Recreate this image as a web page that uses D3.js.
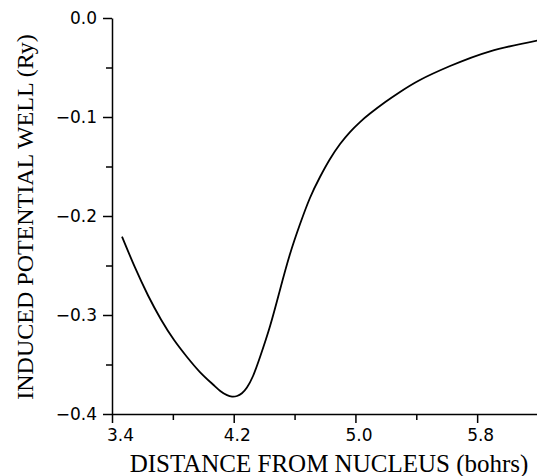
<!DOCTYPE html>
<html>
<head>
<meta charset="utf-8">
<script src="https://cdn.jsdelivr.net/npm/d3@7"></script>
<style>
  body { margin: 0; background: #fff; }
  .tick text { font-family: "DejaVu Sans", sans-serif; font-size: 17px; fill: #000; }
  .axis-label { font-family: "Liberation Serif", "Times New Roman", serif; font-size: 24px; fill: #000; }
</style>
</head>
<body>
<svg width="537" height="476"></svg>
<script>
const svg = d3.select("svg");

// distance from nucleus (bohrs) and induced potential (Ry)
const distance = [3.466, 3.551, 3.637, 3.722, 3.808, 3.893, 3.978, 4.064, 4.116, 4.156,
    4.189, 4.222, 4.254, 4.287, 4.327, 4.373, 4.439, 4.504, 4.570, 4.636, 4.701, 4.767,
    4.833, 4.899, 4.964, 5.030, 5.096, 5.194, 5.293, 5.424, 5.622, 5.885, 6.200];
const potential = [-0.2209, -0.2520, -0.2803, -0.3045, -0.3253, -0.3424, -0.3576, -0.3702,
    -0.3773, -0.3810, -0.3824, -0.3818, -0.3790, -0.3732, -0.3616, -0.3424, -0.3111, -0.2747,
    -0.2384, -0.2081, -0.1818, -0.1606, -0.1424, -0.1273, -0.1152, -0.1051, -0.0965, -0.0851,
    -0.0747, -0.0626, -0.0485, -0.0336, -0.0226];

const xTicks = [3.4, 4.2, 5.0, 5.8];
const xMinorTicks = [3.8, 4.6, 5.4];
const yTicks = [0, -0.1, -0.2, -0.3, -0.4];
const yMinorTicks = [-0.05, -0.15, -0.25, -0.35];

const data = distance.map((d, i) => ({ x: d, y: potential[i] }));

const xScale = d3.scaleLinear().domain([3.4, 6.2]).range([112, 538]);
const yScale = d3.scaleLinear().domain([-0.4, 0]).range([414, 18]);

const fmt = d => d3.format(".1f")(d).replace("-", "\u2212");

// minor ticks first (no domain line)
svg.append('g')
    .attr('transform', 'translate(0, 414)')
    .call(d3.axisBottom(xScale).tickValues(xMinorTicks).tickSize(6).tickFormat(''))
    .call(g => g.select('.domain').remove())
    .selectAll('line').attr('stroke-width', 1.5);

svg.append('g')
    .attr('transform', 'translate(112, 0)')
    .call(d3.axisLeft(yScale).tickValues(yMinorTicks).tickSize(6).tickFormat(''))
    .call(g => g.select('.domain').remove())
    .selectAll('line').attr('stroke-width', 1.5);

const xAxisG = svg.append('g')
    .attr('transform', 'translate(0, 414)')
    .call(d3.axisBottom(xScale).tickValues(xTicks).tickSize(9).tickSizeOuter(0).tickPadding(6).tickFormat(d3.format(".1f")));

// first label sits a little right of its tick in the original
xAxisG.selectAll('.tick text').attr('dx', (d, i) => i === 0 ? 8 : 3);

const yAxisG = svg.append('g')
    .attr('transform', 'translate(112, 0)')
    .call(d3.axisLeft(yScale).tickValues(yTicks).tickSize(9).tickSizeOuter(0).tickPadding(6).tickFormat(fmt));

[xAxisG, yAxisG].forEach(g => {
    g.select('.domain').attr('stroke-width', 1.5);
    g.selectAll('.tick line').attr('stroke-width', 1.5);
    g.attr('font-family', null).attr('font-size', null);
});

svg.append('path')
    .datum(data)
    .attr('fill', 'none')
    .attr('stroke', '#000')
    .attr('stroke-width', 1.8)
    .attr('d', d3.line()
        .x(d => xScale(d.x))
        .y(d => yScale(d.y))
        .curve(d3.curveNatural));

svg.append('text')
    .attr('class', 'axis-label')
    .attr('x', 329)
    .attr('y', 472)
    .attr('text-anchor', 'middle')
    .style('font-size', '25px')
    .text('DISTANCE FROM NUCLEUS (bohrs)');

svg.append('text')
    .attr('class', 'axis-label')
    .attr('transform', 'translate(33, 217) rotate(-90)')
    .attr('text-anchor', 'middle')
    .text('INDUCED POTENTIAL WELL (Ry)');
</script>
</body>
</html>
